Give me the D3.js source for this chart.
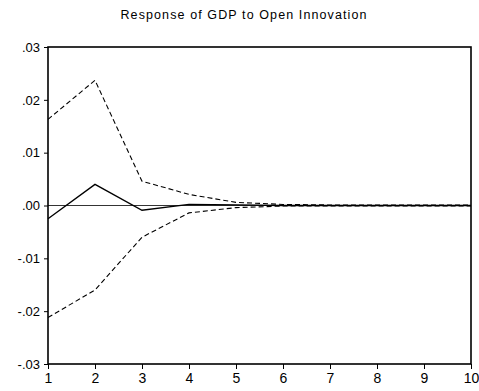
<!DOCTYPE html>
<html><head><meta charset="utf-8">
<script src="https://cdn.jsdelivr.net/npm/d3@7"></script>
<style>body{margin:0;background:#fff}</style>
</head><body><svg id="c" width="479" height="391"></svg>
<script>
const periods = [1,2,3,4,5,6,7,8,9,10];
const response = [-0.0025, 0.0040, -0.0009, 0.0002, 0.0001, 0.0000, 0.0000, 0.0000, 0.0000, 0.0000];
const upper = [0.0163, 0.0237, 0.0046, 0.0021, 0.0006, 0.0002, 0.0001, 0.0001, 0.0001, 0.0001];
const lower = [-0.0212, -0.0160, -0.0060, -0.0014, -0.0004, -0.0001, -0.0001, -0.0001, -0.0001, -0.0001];
const yTicks = [0.03, 0.02, 0.01, 0.00, -0.01, -0.02, -0.03];
const yLabels = [".03", ".02", ".01", ".00", "-.01", "-.02", "-.03"];
const title = "Response of GDP to Open Innovation";

const svg = d3.select("#c");
const L = 48, R = 471, T = 47, B = 364;
const x = d3.scaleLinear().domain([1,10]).range([L,R]);
const y = d3.scaleLinear().domain([-0.03,0.03]).range([B,T]);
const font = "Arial, 'Liberation Sans', sans-serif";

svg.append("text").attr("x", 244).attr("y", 19).attr("text-anchor","middle")
  .attr("font-family", font).attr("font-size", 12.5).attr("letter-spacing", "1.1px").text(title);

svg.append("line").attr("x1", L).attr("x2", R).attr("y1", y(0)).attr("y2", y(0))
  .attr("stroke", "#000").attr("stroke-width", 0.8);

const line = d3.line().x((d,i)=>x(periods[i])).y(d=>y(d));
svg.append("path").datum(upper).attr("d", line).attr("fill","none").attr("stroke","#000")
  .attr("stroke-width", 1.1).attr("stroke-dasharray","5,3");
svg.append("path").datum(lower).attr("d", line).attr("fill","none").attr("stroke","#000")
  .attr("stroke-width", 1.1).attr("stroke-dasharray","5,3");
svg.append("path").datum(response).attr("d", line).attr("fill","none").attr("stroke","#000")
  .attr("stroke-width", 1.3);

svg.append("rect").attr("x", L).attr("y", T).attr("width", R-L).attr("height", B-T)
  .attr("fill","none").attr("stroke","#000").attr("stroke-width", 1.6);

const yAxis = d3.axisLeft(y).tickValues(yTicks).tickFormat((d,i)=>yLabels[i]).tickSize(4).tickSizeOuter(0);
const ga = svg.append("g").attr("transform", `translate(${L},0)`).call(yAxis);
ga.select(".domain").remove();
ga.selectAll("text").attr("font-family", font).attr("font-size", 13).attr("fill","#000").attr("dx","-1");

const xAxis = d3.axisBottom(x).tickValues(periods).tickSize(5).tickSizeOuter(0);
const gx = svg.append("g").attr("transform", `translate(0,${B})`).call(xAxis);
gx.select(".domain").remove();
gx.selectAll("text").attr("font-family", font).attr("font-size", 14).attr("fill","#000").attr("dy","0.8em");
</script></body></html>
